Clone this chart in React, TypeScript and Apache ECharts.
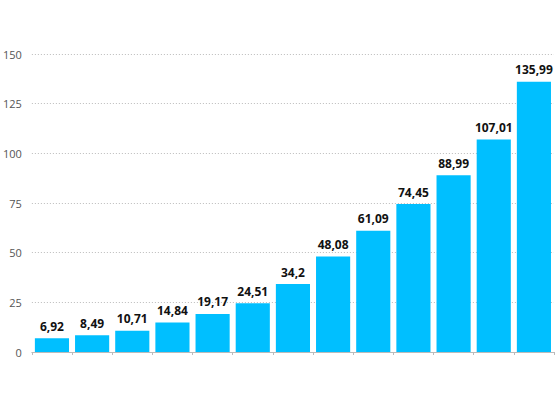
import React, { useEffect, useRef } from "react";
import * as echarts from "echarts";

const categories = ["1", "2", "3", "4", "5", "6", "7", "8", "9", "10", "11", "12", "13"];
const values = [6.92, 8.49, 10.71, 14.84, 19.17, 24.51, 34.2, 48.08, 61.09, 74.45, 88.99, 107.01, 135.99];
const yTicks = [0, 25, 50, 75, 100, 125, 150];

export default function App() {
  const ref = useRef<HTMLDivElement>(null);
  useEffect(() => {
    if (!ref.current) return;
    const chart = echarts.init(ref.current, null, { renderer: "svg" });
    chart.setOption({
      animation: false,
      grid: { left: 30, right: 6, top: 54, bottom: 44 },
      xAxis: {
        type: "category",
        data: categories,
        axisLine: { lineStyle: { color: "#bbbbbb", width: 1 } },
        axisTick: { show: true, length: 3, lineStyle: { color: "#bbbbbb" } },
        axisLabel: { show: false },
      },
      yAxis: {
        type: "value",
        min: yTicks[0],
        max: yTicks[yTicks.length - 1],
        interval: 25,
        axisLine: { show: false },
        axisTick: { show: false },
        axisLabel: { color: "#555555", fontSize: 11, fontFamily: "Open Sans", margin: 10 },
        splitLine: { lineStyle: { color: "#bbbbbb", type: [1, 2], width: 1 } },
      },
      series: [
        {
          type: "bar",
          data: values,
          barCategoryGap: "15%",
          itemStyle: { color: "#00bfff" },
          label: {
            show: true,
            position: "top",
            distance: 6,
            color: "#111111",
            fontSize: 12,
            fontWeight: "bold",
            fontFamily: "Open Sans",
            formatter: (p: any) => String(p.value).replace(".", ","),
          },
        },
      ],
    });
    return () => chart.dispose();
  }, []);
  return <div ref={ref} style={{ width: 560, height: 396, position: "absolute", left: 0, top: 0 }} />;
}
